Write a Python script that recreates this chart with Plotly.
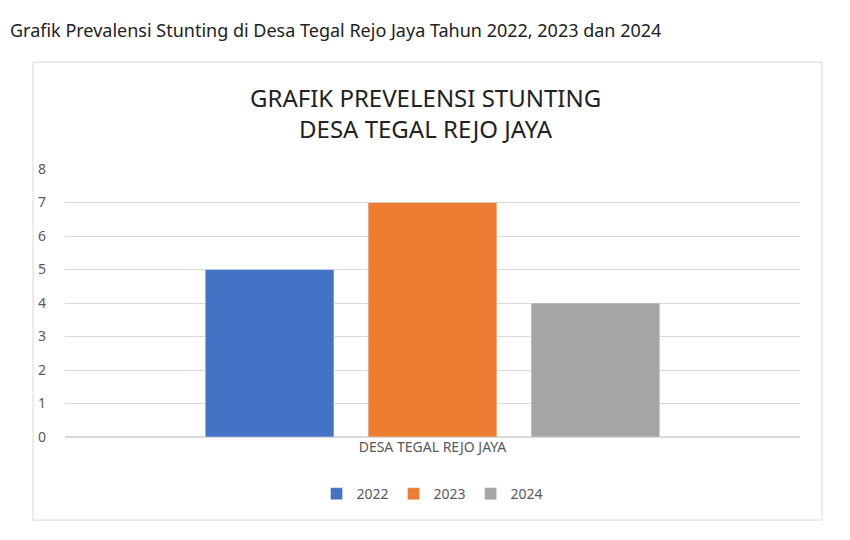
import plotly.graph_objects as go

category = ["DESA TEGAL REJO JAYA"]
years = ["2022", "2023", "2024"]
values = [5, 7, 4]
colors = ["#4472C4", "#ED7D31", "#A5A5A5"]

fig = go.Figure()
for y, v, c in zip(years, values, colors):
    fig.add_trace(go.Bar(name=y, x=category, y=[v], marker_color=c))

fig.update_layout(
    width=850, height=540,
    paper_bgcolor="white", plot_bgcolor="white",
    margin=dict(l=57, r=58, t=161, b=111),
    barmode="group", bargap=0.335, bargroupgap=0.21,
    font=dict(family="Noto Sans", color="#595959", size=13),
    showlegend=True,
    legend=dict(orientation="h", x=0.5, xanchor="center", y=-0.213, yanchor="middle",
                font=dict(size=14, color="#595959")),
    xaxis=dict(showgrid=False, showline=False, ticks="", tickfont=dict(size=14)),
    yaxis=dict(range=[0, 8], dtick=1, showgrid=True, gridcolor="#D9D9D9",
               zeroline=True, zerolinecolor="#D9D9D9", ticks="", ticklabelstandoff=18,
               tickfont=dict(size=14)),
    shapes=[dict(type="rect", xref="paper", yref="paper", x0=-0.0435, x1=1.03, y0=-0.31, y1=1.399,
                 line=dict(color="#D9D9D9", width=1))],
    annotations=[
        dict(text="Grafik Prevalensi Stunting di Desa Tegal Rejo Jaya Tahun 2022, 2023 dan 2024",
             xref="paper", yref="paper", x=-0.078, y=1.519, xanchor="left", yanchor="middle",
             showarrow=False, font=dict(size=18, color="#222222")),
        dict(text="GRAFIK PREVELENSI STUNTING<br>DESA TEGAL REJO JAYA",
             xref="paper", yref="paper", x=0.49, y=1.209, xanchor="center", yanchor="middle",
             showarrow=False, font=dict(size=24, color="#222222")),
    ],
)

fig.write_html("out.html")
